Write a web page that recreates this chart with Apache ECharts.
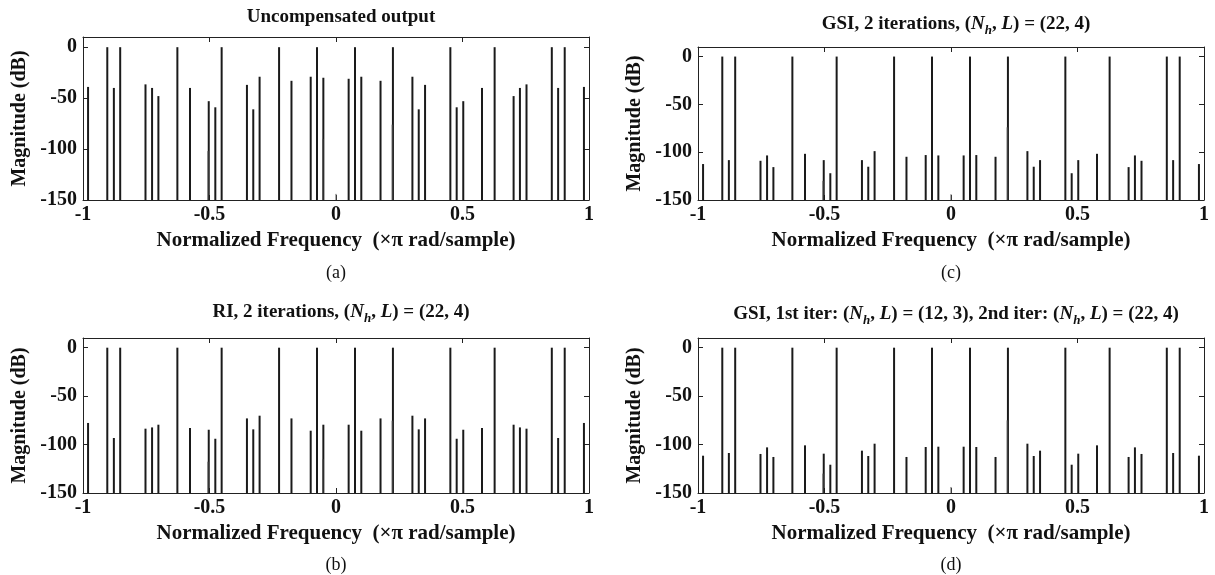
<!DOCTYPE html>
<html>
<head>
<meta charset="utf-8">
<script src="https://cdn.jsdelivr.net/npm/echarts@6/dist/echarts.min.js"></script>
<style>
html,body{margin:0;padding:0;background:#fff;}
#chart{width:1215px;height:575px;}
</style>
</head>
<body>
<div id="chart"></div>
<script>
// ---- data ----
const freqs = [-0.980, -0.904, -0.878, -0.853, -0.753, -0.727, -0.702, -0.627, -0.577, -0.503,
               -0.477, -0.452, -0.352, -0.327, -0.302, -0.225, -0.176, -0.100, -0.075, -0.050,
                0.050,  0.075,  0.100,  0.176,  0.225,  0.302,  0.327,  0.352,  0.452,  0.477,
                0.503,  0.577,  0.627,  0.702,  0.727,  0.753,  0.853,  0.878,  0.904,  0.980];

const magA = [-39, 0, -40, 0, -36.5, -40, -48, 0, -40, -53,
              -59, 0, -37, -61, -29, 0, -33, -29, 0, -30,
              -31, 0, -29, -33, 0, -29, -61, -37, 0, -59,
              -53, -40, 0, -48, -40, -36.5, 0, -40, 0, -39];
const magB = [-77.7, 0, -93.2, 0, -83.6, -82.3, -79.5, 0, -82.9, -84.7,
              -94, 0, -73, -84.3, -70.2, 0, -73, -85.7, 0, -79.5,
              -79.5, 0, -85.7, -73, 0, -70.2, -84.3, -73, 0, -94,
              -84.7, -82.9, 0, -79.5, -82.3, -83.6, 0, -93.2, 0, -77.7];
const magC = [-112.4, 0, -108.3, 0, -109, -103.4, -115.6, 0, -101.7, -108.3,
              -122, 0, -108.3, -115.2, -98.9, 0, -104.8, -103, 0, -103.4,
              -103.4, 0, -103, -104.8, 0, -98.9, -115.2, -108.3, 0, -122,
              -108.3, -101.7, 0, -115.6, -103.4, -109, 0, -108.3, 0, -112.4];
const magD = [-111.5, 0, -108.7, 0, -109.7, -102.9, -112.8, 0, -100.8, -109.4,
              -120.8, 0, -106.3, -111.8, -99.1, 0, -112.8, -102.5, 0, -102.2,
              -102.2, 0, -102.5, -112.8, 0, -99.1, -111.8, -106.3, 0, -120.8,
              -109.4, -100.8, 0, -112.8, -102.9, -109.7, 0, -108.7, 0, -111.5];

// faint overlapping spurs
const spurFreqA = [-0.506, -0.052, 0.000, 0.222, 0.500];
const spurMagA  = [-102, -90, -144, -76, -102];
const spurFreqB = [-0.506, -0.052, 0.222, 0.500];
const spurMagB  = [-117.7, -115, -75.4, -117.7];
const spurFreqC = [-0.506, 0.000, 0.222, 0.500];
const spurMagC  = [-130, -144, -74, -130];
const spurFreqD = [-0.506, 0.000, 0.222, 0.500];
const spurMagD  = [-130, -143.8, -75, -130];

const xTicks = [-1, -0.5, 0, 0.5, 1];
const yTicks = [-150, -100, -50, 0];

const titles = [
  'Uncompensated output',
  'GSI, 2 iterations, ({it|N}{sub|h}, {it|L}) = (22, 4)',
  'RI, 2 iterations, ({it|N}{sub|h}, {it|L}) = (22, 4)',
  'GSI, 1st iter: ({it|N}{sub|h}, {it|L}) = (12, 3), 2nd iter: ({it|N}{sub|h}, {it|L}) = (22, 4)'
];
const captions = ['(a)', '(c)', '(b)', '(d)'];
const xName = 'Normalized Frequency  (\u00d7\u03c0 rad/sample)';
const yName = 'Magnitude (dB)';

// ---- layout ----
const FONT = 'Liberation Serif';
const grids = [
  {left: 83,  top: 37,  width: 506, height: 163},
  {left: 698, top: 47,  width: 506, height: 153},
  {left: 83,  top: 338, width: 506, height: 155},
  {left: 698, top: 338, width: 506, height: 155}
];
const titleTops = [3, 7, 295, 297];
const captionY = [273, 273, 565, 565];

const lineCol = '#222';
const stemCol = '#1a1a1a';

function pairs(fs, ms) { return fs.map((f, i) => [f, ms[i]]); }
const panelData = [pairs(freqs, magA), pairs(freqs, magC), pairs(freqs, magB), pairs(freqs, magD)];
const spurData = [pairs(spurFreqA, spurMagA), pairs(spurFreqC, spurMagC), pairs(spurFreqB, spurMagB), pairs(spurFreqD, spurMagD)];

function makeStem(color, width) {
  return function (params, api) {
    const x = api.value(0), y = api.value(1);
    const p0 = api.coord([x, -150]);
    const p1 = api.coord([x, y]);
    return {
      type: 'line',
      shape: {x1: p0[0], y1: p0[1], x2: p1[0], y2: p1[1]},
      style: {stroke: color, lineWidth: width}
    };
  };
}

const xAxes = [], yAxes = [], series = [], titleOpts = [], graphics = [];
grids.forEach((g, i) => {
  const common = {
    gridIndex: i, type: 'value', min: -1, max: 1, interval: 0.5,
    axisLine: {show: true, onZero: false, lineStyle: {color: lineCol, width: 1}},
    axisTick: {show: true, inside: true, length: 5, lineStyle: {color: lineCol}},
    splitLine: {show: false}
  };
  xAxes.push(Object.assign({}, common, {
    position: 'bottom',
    axisLabel: {show: true, margin: 5, fontFamily: FONT, fontWeight: 'bold', fontSize: 20, color: '#111',
      formatter: v => (xTicks.indexOf(v) >= 0 ? String(v) : '')},
    name: xName, nameLocation: 'middle', nameGap: 30,
    nameTextStyle: {fontFamily: FONT, fontWeight: 'bold', fontSize: 21, color: '#111'}
  }));
  xAxes.push(Object.assign({}, common, {position: 'top', axisLabel: {show: false}}));
  const ycommon = {
    gridIndex: i, type: 'value', min: -150, max: 10, interval: 50,
    axisLine: {show: true, onZero: false, lineStyle: {color: lineCol, width: 1}},
    axisTick: {show: true, inside: true, length: 5, lineStyle: {color: lineCol}},
    splitLine: {show: false}
  };
  yAxes.push(Object.assign({}, ycommon, {
    position: 'left',
    axisLabel: {show: true, margin: 6, fontFamily: FONT, fontWeight: 'bold', fontSize: 20, color: '#111',
      formatter: v => (yTicks.indexOf(v) >= 0 ? String(v) : '')},
    name: yName, nameLocation: 'middle', nameGap: 53,
    nameTextStyle: {fontFamily: FONT, fontWeight: 'bold', fontSize: 20, color: '#111'}
  }));
  yAxes.push(Object.assign({}, ycommon, {position: 'right', axisLabel: {show: false}}));

  series.push({
    type: 'custom', xAxisIndex: 2 * i, yAxisIndex: 2 * i,
    renderItem: makeStem(stemCol, 2), data: panelData[i], silent: true, clip: false
  });
  series.push({
    type: 'custom', xAxisIndex: 2 * i, yAxisIndex: 2 * i,
    renderItem: makeStem('#555', 1), data: spurData[i], silent: true, clip: false
  });

  titleOpts.push({
    text: titles[i],
    left: g.left + g.width / 2, top: titleTops[i], textAlign: 'center',
    textStyle: {
      fontFamily: FONT, fontWeight: 'bold', fontSize: 19, color: '#111',
      rich: {
        it: {fontFamily: FONT, fontWeight: 'bold', fontStyle: 'italic', fontSize: 19, color: '#111'},
        sub: {fontFamily: FONT, fontWeight: 'bold', fontStyle: 'italic', fontSize: 13, color: '#111', padding: [12, 0, 0, 0]}
      }
    }
  });
  graphics.push({
    type: 'text', x: g.left + g.width / 2, y: captionY[i],
    style: {text: captions[i], font: 'normal 18px "Liberation Serif"', fill: '#111', align: 'center', verticalAlign: 'middle'}
  });
});

const chart = echarts.init(document.getElementById('chart'), null, {renderer: 'canvas'});
chart.setOption({
  backgroundColor: '#fff',
  animation: false,
  title: titleOpts,
  grid: grids,
  xAxis: xAxes,
  yAxis: yAxes,
  series: series,
  graphic: graphics
});
</script>
</body>
</html>
